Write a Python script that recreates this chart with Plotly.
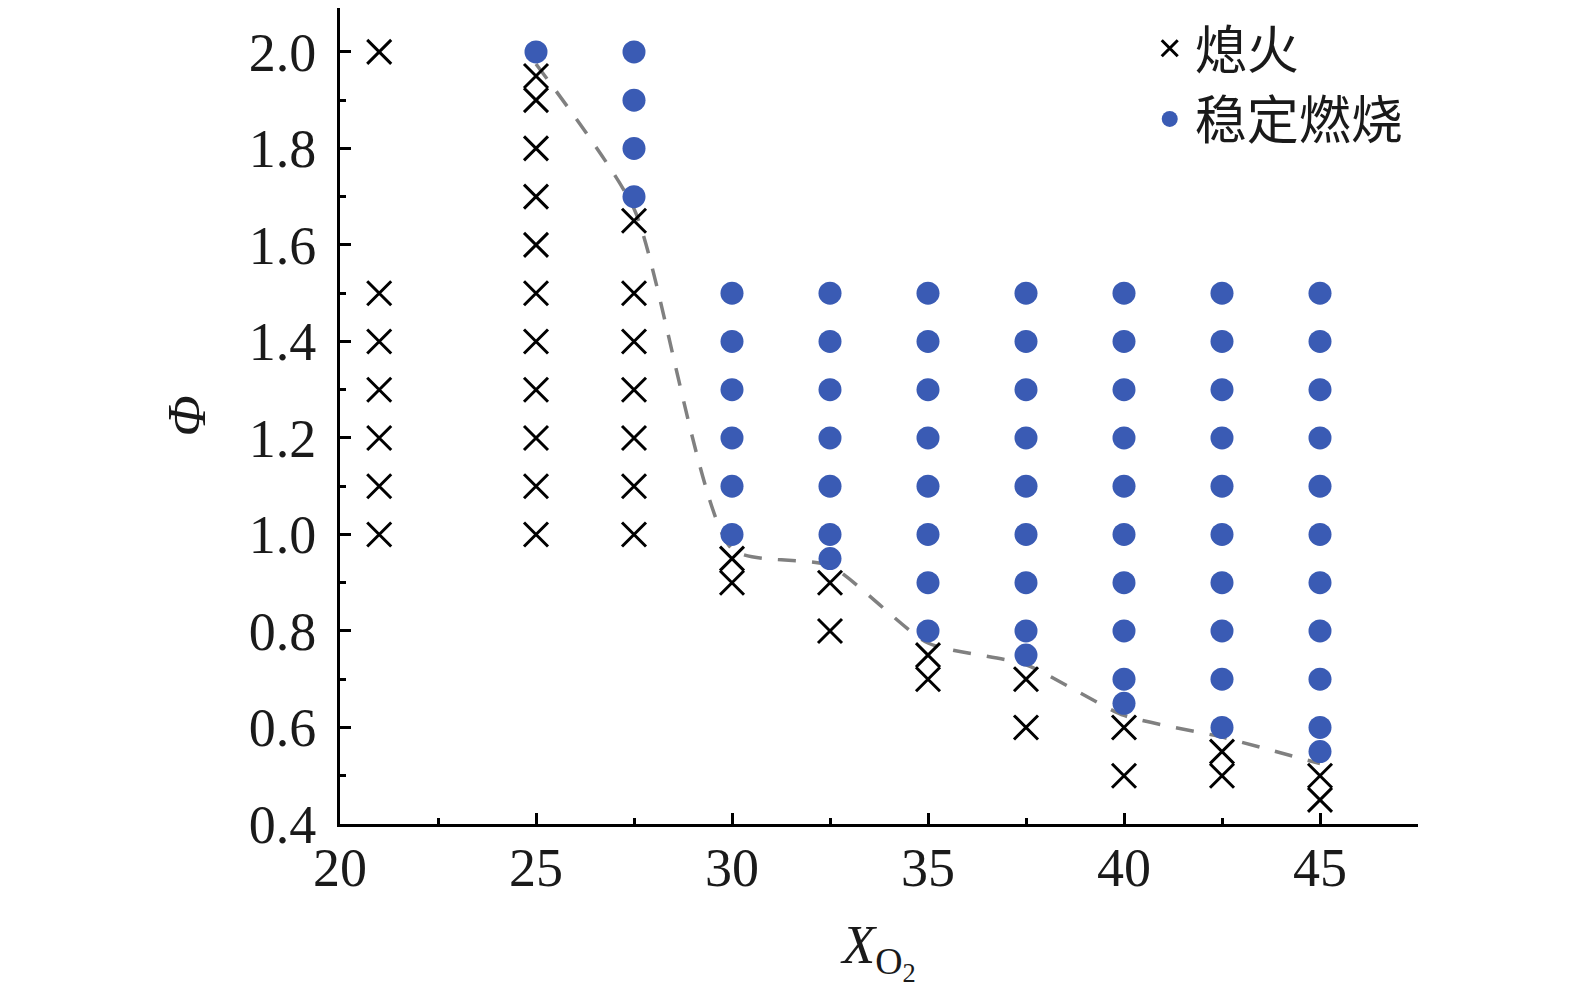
import plotly.graph_objects as go

# extinguished points (x marks)
ext_x = [21, 21, 21, 21, 21, 21, 21,
         25, 25, 25, 25, 25, 25, 25, 25, 25, 25, 25,
         27.5, 27.5, 27.5, 27.5, 27.5, 27.5, 27.5,
         30, 30,
         32.5, 32.5,
         35, 35,
         37.5, 37.5,
         40, 40,
         42.5, 42.5,
         45, 45]
ext_y = [2.0, 1.5, 1.4, 1.3, 1.2, 1.1, 1.0,
         1.95, 1.9, 1.8, 1.7, 1.6, 1.5, 1.4, 1.3, 1.2, 1.1, 1.0,
         1.65, 1.5, 1.4, 1.3, 1.2, 1.1, 1.0,
         0.95, 0.9,
         0.9, 0.8,
         0.75, 0.7,
         0.7, 0.6,
         0.6, 0.5,
         0.55, 0.5,
         0.5, 0.45]

# stable combustion points (dots)
stab_x = [25,
          27.5, 27.5, 27.5, 27.5,
          30, 30, 30, 30, 30, 30,
          32.5, 32.5, 32.5, 32.5, 32.5, 32.5, 32.5,
          35, 35, 35, 35, 35, 35, 35, 35,
          37.5, 37.5, 37.5, 37.5, 37.5, 37.5, 37.5, 37.5, 37.5,
          40, 40, 40, 40, 40, 40, 40, 40, 40, 40,
          42.5, 42.5, 42.5, 42.5, 42.5, 42.5, 42.5, 42.5, 42.5, 42.5,
          45, 45, 45, 45, 45, 45, 45, 45, 45, 45, 45]
stab_y = [2.0,
          2.0, 1.9, 1.8, 1.7,
          1.5, 1.4, 1.3, 1.2, 1.1, 1.0,
          1.5, 1.4, 1.3, 1.2, 1.1, 1.0, 0.95,
          1.5, 1.4, 1.3, 1.2, 1.1, 1.0, 0.9, 0.8,
          1.5, 1.4, 1.3, 1.2, 1.1, 1.0, 0.9, 0.8, 0.75,
          1.5, 1.4, 1.3, 1.2, 1.1, 1.0, 0.9, 0.8, 0.7, 0.65,
          1.5, 1.4, 1.3, 1.2, 1.1, 1.0, 0.9, 0.8, 0.7, 0.6,
          1.5, 1.4, 1.3, 1.2, 1.1, 1.0, 0.9, 0.8, 0.7, 0.6, 0.55]

# boundary curve
bound_x = [25, 27.5, 30, 32.5, 35, 37.5, 40, 42.5, 45]
bound_y = [1.975, 1.675, 0.97, 0.935, 0.775, 0.73, 0.625, 0.58, 0.525]

SERIF = "Liberation Serif, Times New Roman, serif"
CJK = "Liberation Serif, Noto Sans CJK SC, serif"
BLUE = "#3A5BB4"
INK = "#1a1a1a"

fig = go.Figure()

fig.add_trace(go.Scatter(
    x=bound_x, y=bound_y, mode="lines", showlegend=False,
    line=dict(color="#808080", width=3.5, dash="18px,16px", shape="spline", smoothing=0.6),
))
fig.add_trace(go.Scatter(
    x=ext_x, y=ext_y, mode="markers", name="熄火",
    marker=dict(symbol="x-thin", size=24, line=dict(color="black", width=3)),
))
fig.add_trace(go.Scatter(
    x=stab_x, y=stab_y, mode="markers", name="稳定燃烧",
    marker=dict(symbol="circle", size=23, color=BLUE),
))

axis_common = dict(
    showline=True, linewidth=3, linecolor="black", mirror=False,
    ticks="inside", ticklen=11, tickwidth=3, tickcolor="black",
    showgrid=False, zeroline=False, automargin=False,
    tickfont=dict(family=SERIF, size=54, color=INK),
)

fig.update_xaxes(
    range=[20, 47.5], dtick=5, tick0=20,
    minor=dict(dtick=2.5, ticks="inside", ticklen=6, tickwidth=3, tickcolor="black"),
    title=dict(text="<i>X</i><sub>O<sub>2</sub></sub>", font=dict(family=SERIF, size=54, color=INK), standoff=29),
    ticklabelstandoff=-6,
    **axis_common,
)
fig.update_yaxes(
    range=[0.4, 2.091], dtick=0.2, tick0=0.4, tickformat=".1f",
    minor=dict(dtick=0.1, ticks="inside", ticklen=6, tickwidth=3, tickcolor="black"),
    title=dict(text="<i>Φ</i>", font=dict(family=SERIF, size=54, color=INK), standoff=26),
    ticklabelstandoff=10,
    **axis_common,
)

fig.update_layout(
    width=1575, height=987,
    margin=dict(l=332, r=165, t=0, b=171),
    plot_bgcolor="white", paper_bgcolor="white",
    legend=dict(
        x=0.7465, y=1.0, xanchor="left", yanchor="top",
        font=dict(family=CJK, size=52, color=INK),
        bgcolor="rgba(0,0,0,0)", tracegroupgap=0, itemwidth=40,
    ),
)

fig.write_html("out.html")
